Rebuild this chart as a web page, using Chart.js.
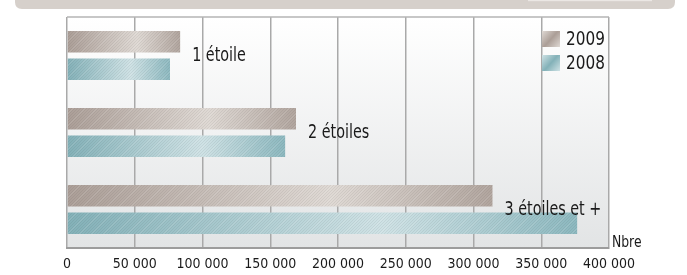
<!DOCTYPE html>
<html><head><meta charset="utf-8">
<script src="https://cdn.jsdelivr.net/npm/chart.js@4"></script>
<style>html,body{margin:0;padding:0;background:#fff;overflow:hidden}</style>
</head><body>
<canvas id="c" width="687" height="275"></canvas>
<script>
// ---- data ----
const categories = ['1 étoile', '2 étoiles', '3 étoiles et +'];
const seriesNames = ['2009', '2008'];
const values2009 = [83500, 169000, 314000];
const values2008 = [76000, 161000, 376500];
const xTickValues = [0, 50000, 100000, 150000, 200000, 250000, 300000, 350000, 400000];
const axisUnit = 'Nbre';

// ---- styles ----
const FONT = "'Liberation Sans Narrow','DejaVu Sans Condensed','Arial Narrow',sans-serif";
const STOPS = [
  ['#ab9e97', '#dfd9d4', '#b1a59e'],
  ['#83b1b8', '#cfe2e5', '#8cb8bf']
];

function barGradient(ctx, stops) {
  const chart = ctx.chart;
  if (!chart.chartArea || ctx.raw === undefined) return stops[1];
  const xs = chart.scales.x;
  const x0 = xs.getPixelForValue(0), x1 = xs.getPixelForValue(ctx.raw);
  const g = chart.ctx.createLinearGradient(x0, 0, x1, 0);
  g.addColorStop(0, stops[0]);
  g.addColorStop(0.62, stops[1]);
  g.addColorStop(1, stops[2]);
  return g;
}

function makeStripePattern(ctx) {
  const c = document.createElement('canvas');
  c.width = 24; c.height = 24;
  const p = c.getContext('2d');
  p.strokeStyle = 'rgba(70,60,60,0.10)';
  p.lineWidth = 0.8;
  for (let k = -24; k <= 48; k += 3) {
    p.beginPath(); p.moveTo(k, 24); p.lineTo(k + 24, 0); p.stroke();
  }
  p.strokeStyle = 'rgba(255,255,255,0.22)';
  p.lineWidth = 0.8;
  for (let k = -24; k <= 48; k += 12) {
    p.beginPath(); p.moveTo(k + 1.5, 24); p.lineTo(k + 25.5, 0); p.stroke();
  }
  return ctx.createPattern(c, 'repeat');
}

// condensed text: draw with a horizontal squeeze
function narrowText(ctx, text, x, y, size, squeeze) {
  ctx.save();
  ctx.translate(x, y);
  ctx.scale(squeeze, 1);
  ctx.font = size + 'px ' + FONT;
  ctx.fillText(text, 0, 0);
  ctx.restore();
}

const decor = {
  id: 'decor',
  beforeDraw(chart) {
    const ctx = chart.ctx, a = chart.chartArea;
    ctx.save();
    ctx.fillStyle = '#fff';
    ctx.fillRect(0, 0, chart.width, chart.height);
    // header band
    ctx.fillStyle = '#d6d0cb';
    ctx.beginPath();
    const L = 15, R = 675, B = 9, r = 7;
    ctx.moveTo(L, -2); ctx.lineTo(R, -2); ctx.lineTo(R, B - r);
    ctx.quadraticCurveTo(R, B, R - r, B); ctx.lineTo(L + r, B);
    ctx.quadraticCurveTo(L, B, L, B - r); ctx.closePath(); ctx.fill();
    ctx.fillStyle = '#ebe7e4';
    ctx.fillRect(528, 0, 124, 1.2);
    // plot background
    const g = ctx.createLinearGradient(0, a.top, 0, a.bottom);
    g.addColorStop(0, '#ffffff');
    g.addColorStop(1, '#e2e4e5');
    ctx.fillStyle = g;
    ctx.fillRect(a.left, a.top, a.right - a.left, a.bottom - a.top);
    ctx.restore();
  },
  afterDatasetsDraw(chart) {
    const ctx = chart.ctx, a = chart.chartArea;
    if (!chart._stripe) chart._stripe = makeStripePattern(ctx);
    ctx.save();
    // stripes over bars
    chart.data.datasets.forEach((ds, di) => {
      chart.getDatasetMeta(di).data.forEach(bar => {
        const p = bar.getProps(['x', 'y', 'base', 'height'], true);
        ctx.fillStyle = chart._stripe;
        ctx.fillRect(p.base, p.y - p.height / 2, p.x - p.base, p.height);
      });
    });
    // category labels right of the top bar
    ctx.fillStyle = '#1a1a1a';
    ctx.textBaseline = 'middle';
    ctx.textAlign = 'left';
    const meta0 = chart.getDatasetMeta(0);
    const meta1 = chart.getDatasetMeta(1);
    categories.forEach((cat, i) => {
      const bx = meta0.data[i].x;
      const y = (meta0.data[i].y + meta1.data[i].y) / 2 + 1;
      narrowText(ctx, cat, bx + 12, y, 19, 0.84);
    });
    // legend
    const lx = a.right - 67;
    const ly = [a.top + 14, a.top + 38];
    seriesNames.forEach((name, i) => {
      const g = ctx.createLinearGradient(lx, ly[i], lx + 18, ly[i] + 16);
      g.addColorStop(0, STOPS[i][1]); g.addColorStop(0.5, STOPS[i][0]); g.addColorStop(1, STOPS[i][1]);
      ctx.fillStyle = g;
      ctx.fillRect(lx, ly[i], 18, 16);
      ctx.fillStyle = '#1a1a1a';
      narrowText(ctx, name, lx + 24, ly[i] + 8.5, 20, 0.85);
    });
    // unit label
    narrowText(ctx, axisUnit, a.right + 3, a.bottom - 5, 16, 0.86);
    // frame top
    ctx.strokeStyle = '#b4b4b4';
    ctx.lineWidth = 1.5;
    ctx.beginPath(); ctx.moveTo(a.left, a.top); ctx.lineTo(a.right, a.top); ctx.stroke();
    ctx.restore();
  }
};

new Chart(document.getElementById('c'), {
  type: 'bar',
  data: {
    labels: categories,
    datasets: [
      { label: seriesNames[0], data: values2009, backgroundColor: c => barGradient(c, STOPS[0]) },
      { label: seriesNames[1], data: values2008, backgroundColor: c => barGradient(c, STOPS[1]) }
    ]
  },
  options: {
    indexAxis: 'y',
    responsive: false,
    animation: false,
    devicePixelRatio: 1,
    categoryPercentage: 0.714,
    barPercentage: 0.78,
    layout: { padding: { left: 67, right: 78, top: 17, bottom: 0 } },
    plugins: { legend: { display: false }, tooltip: { enabled: false } },
    scales: {
      x: {
        min: 0, max: 400000,
        afterBuildTicks: s => { s.ticks = xTickValues.map(v => ({ value: v })); },
        afterFit: s => { s.height = 27; },
        grid: { color: '#a9a9a9', lineWidth: 1.5, drawTicks: false },
        border: { color: '#9c9c9c', width: 2 },
        ticks: {
          padding: 8,
          color: '#1a1a1a',
          font: { family: FONT, size: 14 },
          maxRotation: 0,
          autoSkip: false,
          callback: v => String(v).replace(/\B(?=(\d{3})+(?!\d))/g, ' ')
        }
      },
      y: { display: false }
    }
  },
  plugins: [decor]
});
</script>
</body></html>
